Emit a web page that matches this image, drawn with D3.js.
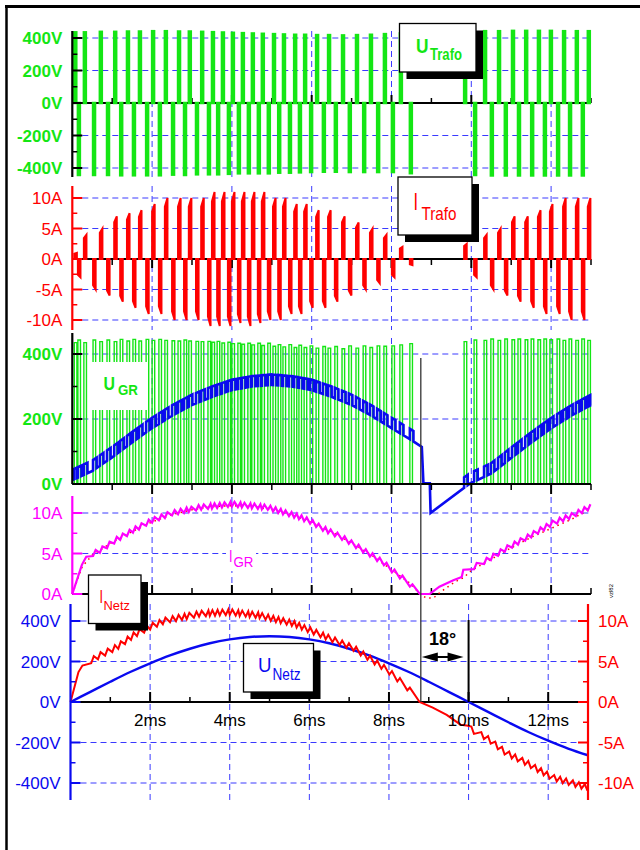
<!DOCTYPE html>
<html>
<head>
<meta charset="utf-8">
<script src="https://cdn.jsdelivr.net/npm/d3@7"></script>
<style>
  body { margin: 0; background: #fff; }
  svg { display: block; }
  text { font-family: "Liberation Sans", Arial, sans-serif; }
</style>
</head>
<body>
<svg id="chart" width="640" height="850"></svg>
<script>
// ---------- time axis (ms) ----------
const msTicks  = [2, 4, 6, 8, 10, 12];
const msMinor  = [1, 3, 5, 7, 9, 11, 13];
const msLabels = ["2ms", "4ms", "6ms", "8ms", "10ms", "12ms"];

// ---------- bridge switching pulses: start times (ms) ----------
const posPulseT = [0.05,0.29,0.69,1.05,1.37,1.67,2.00,2.32,2.65,2.92,3.23,3.50,3.75,4.00,4.25,4.50,4.75,5.03,5.28,5.56,5.81,6.11,6.41,6.76,7.11,7.46,7.81,8.21,9.82,10.32,10.67,11.02,11.35,11.67,11.97,12.30,12.62,12.92];
const negPulseT = [0.14,0.52,0.87,1.20,1.52,1.85,2.17,2.50,2.80,3.10,3.40,3.63,3.90,4.15,4.40,4.65,4.90,5.16,5.43,5.68,5.96,6.28,6.58,6.93,7.29,7.64,8.01,8.46,10.07,10.49,10.84,11.17,11.50,11.82,12.15,12.45,12.77];
const uPulseLen = 0.05;   // voltage pulse duration (ms)
const iPulseLen = 0.065;  // current pulse duration (ms)

// U_Trafo pulse heights (V)
const uTrafoPos = [435,435,438,438,440,440,442,442,440,440,438,436,434,432,430,428,426,424,422,420,420,418,418,416,418,420,424,428,438,442,442,444,444,444,444,442,442,442];
const uTrafoNeg = [-443,-443,-443,-445,-445,-445,-445,-441,-443,-439,-439,-439,-436,-433,-433,-433,-433,-429,-429,-427,-425,-423,-423,-425,-425,-425,-425,-432,-443,-446,-446,-446,-446,-446,-446,-446,-446];

// I_Trafo pulse peaks (A)
const iTrafoPos = [1,4,5,7,7.5,8,9,10,10,10,10,11,11,11,11,11,11,10,10,9,9,8,8,7,6,5,4,2,2.5,4,5,7,7,8,9,10,10,10];
const iTrafoNeg = [-3,-5,-6,-7,-8,-9,-9,-10,-10,-10,-11,-11,-11,-10.5,-11,-10.5,-10,-10,-9,-9,-8,-8,-7,-6,-5,-4,-3,-1,-3,-5,-6,-7,-8,-9,-9,-10,-10];

// U_GR mean voltage: lower edge of the band (V) and tooth height
const ugrBaseT = [0,0.5,1,1.5,2,2.5,3,3.5,4,4.5,5,5.5,6,6.5,7,7.5,8,8.5,8.76,8.8,8.96,8.98,9.97,10.5,11,11.5,12,12.5,13];
const ugrBaseV = [12,40,82,128,172,210,243,268,289,300,305,300,289,268,243,210,172,135,114,2,2,-89,2,32,80,127,171,210,243];
const ugrTooth = 32;
const ugrToothLen = 0.09;

// I_GR rectifier current (A)
const igrT = [0,0.24,0.35,0.7,1.1,1.53,2.0,2.5,3.2,4.0,4.9,5.7,6.0,6.2,6.8,7.3,7.8,8.0,8.4,8.71,8.96,9.2,9.55,9.76,9.8,10.0,10.4,10.9,11.4,12.05,12.55,12.95];
const igrV = [0,3.6,4.6,5.4,6.7,7.9,9.1,10.0,10.7,11.1,10.7,9.5,8.9,8.3,6.9,5.4,3.9,3.0,1.5,0,0,0.9,1.7,2.1,3.0,3.2,4.2,5.7,7.0,8.8,9.75,10.7];
const igrRefT = [0,0.25,0.5,1,1.5,2,2.5,3,3.5,4,4.5,5,5.5,6,6.5,7,7.5,8,8.5,8.71,8.88,9.05,9.23,9.42,9.59,9.8,10,10.5,11,11.5,12,12.5,12.95];
const igrRefV = [0,3.4,4.8,6.4,7.7,8.9,9.8,10.4,10.8,10.9,10.8,10.4,9.8,8.8,7.7,6.3,4.8,3.0,1.2,0,-0.5,-0.5,0.25,0.9,1.5,2.0,2.9,4.3,5.7,7.0,8.1,9.2,10.4];
const igrRipple = 0.3;

// mains voltage U_Netz (V)
const unetzT = [0,0.5,1,1.5,2,2.5,3,3.5,4,4.5,5,5.5,6,6.5,7,7.5,8,8.5,9,9.5,10,10.5,11,11.5,12,12.5,13];
const unetzV = [0,50,100,148,191,230,263,290,309,321,325,321,309,290,263,230,191,148,100,50,0,-50,-100,-148,-191,-230,-263];

// mains current I_Netz (A)
const inetzT = [0,0.2,0.3,0.75,1.17,1.6,2.0,2.4,3.25,4.0,4.75,5.6,6.2,7.1,7.95,8.45,8.77,9.1,9.45,9.8,9.95,10.1,10.45,10.95,11.45,12.1,12.6,13.0];
const inetzV = [0,3.7,4.5,5.8,6.8,8.3,9.3,10.1,10.9,11.1,10.7,9.7,8.5,6.7,4.0,1.85,0,-0.7,-1.6,-2.8,-2.9,-3.5,-4.4,-6.3,-7.5,-9.3,-10.0,-10.6];
const inetzRipple = 0.35;

// phase shift marker
const phaseMarks = [8.8, 10];
const phaseLabel = "18°";

// tick values and labels
const uTrafoTicks = [400,200,0,-200,-400], uTrafoMinor = [300,100,-100,-300];
const uTrafoLabels = ["400V","200V","0V","-200V","-400V"];
const iTrafoTicks = [10,5,0,-5,-10], iTrafoMinor = [7.5,2.5,-2.5,-7.5];
const iTrafoLabels = ["10A","5A","0A","-5A","-10A"];
const ugrTicks = [400,200,0], ugrMinor = [300,100];
const ugrLabels = ["400V","200V","0V"];
const igrTicks = [10,5,0], igrMinor = [7.5,2.5];
const igrLabels = ["10A","5A","0A"];
const netzUTicks = [400,200,0,-200,-400], netzUMinor = [300,100,-100,-300];
const netzULabels = ["400V","200V","0V","-200V","-400V"];
const netzITicks = [10,5,0,-5,-10], netzIMinor = [7.5,2.5,-2.5,-7.5];
const netzILabels = ["10A","5A","0A","-5A","-10A"];

// ---------- colours ----------
const GREEN = "#14e614", RED = "#ff0000", MAG = "#ff00ff", BLUE = "#0a0af0", GRID = "#3a3aff";

const svg = d3.select("#chart");

// ---------- scales ----------
const xT = d3.scaleLinear().domain([0, 13]).range([72.3, 591]);
const xB = d3.scaleLinear().domain([0, 13]).range([70.5, 588]);

const y1 = d3.scaleLinear().domain([-400, 400]).range([168, 38]);
const y2 = d3.scaleLinear().domain([-10, 10]).range([320, 198]);
const y3 = d3.scaleLinear().domain([0, 400]).range([484, 354]);
const y4 = d3.scaleLinear().domain([0, 10]).range([594, 513]);
const y5 = d3.scaleLinear().domain([-400, 400]).range([783, 621]);
const y5r = d3.scaleLinear().domain([-10, 10]).range([783, 621]);

// ---------- frame ----------
svg.append("line").attr("x1", 5).attr("x2", 640).attr("y1", 6.5).attr("y2", 6.5)
  .attr("stroke", "#000").attr("stroke-width", 3);
svg.append("line").attr("x1", 6.5).attr("x2", 6.5).attr("y1", 5).attr("y2", 850)
  .attr("stroke", "#000").attr("stroke-width", 2.5);

// ---------- helpers ----------
function gridLines(x, y, hVals, top, bottom) {
  const g = svg.append("g").attr("stroke", GRID).attr("stroke-width", 1)
    .attr("stroke-dasharray", "6,4").attr("fill", "none");
  hVals.forEach(v => g.append("line")
    .attr("x1", x(0)).attr("x2", x(13)).attr("y1", y(v)).attr("y2", y(v)));
  msTicks.forEach(t => g.append("line")
    .attr("x1", x(t)).attr("x2", x(t)).attr("y1", top).attr("y2", bottom));
}

function zeroAxis(x, yPix, dir, majLen, minLen) {
  const g = svg.append("g").attr("stroke", "#000");
  g.append("line").attr("x1", x(0)).attr("x2", x(13)).attr("y1", yPix).attr("y2", yPix)
    .attr("stroke-width", 2);
  msTicks.forEach(t => g.append("line").attr("x1", x(t)).attr("x2", x(t))
    .attr("y1", yPix).attr("y2", yPix + dir * majLen).attr("stroke-width", 2));
  msMinor.forEach(t => g.append("line").attr("x1", x(t)).attr("x2", x(t))
    .attr("y1", yPix).attr("y2", yPix + dir * minLen).attr("stroke-width", 1.5));
}

function yAxis(xPix, y, top, bottom, color, majors, minors, dir, labels, font) {
  const g = svg.append("g");
  g.append("line").attr("x1", xPix).attr("x2", xPix).attr("y1", top).attr("y2", bottom)
    .attr("stroke", color).attr("stroke-width", 2.2);
  majors.forEach(v => g.append("line").attr("x1", xPix).attr("x2", xPix + dir * 10)
    .attr("y1", y(v)).attr("y2", y(v)).attr("stroke", color).attr("stroke-width", 2));
  minors.forEach(v => g.append("line").attr("x1", xPix).attr("x2", xPix + dir * 5)
    .attr("y1", y(v)).attr("y2", y(v)).attr("stroke", color).attr("stroke-width", 1.5));
  majors.forEach((v, i) => g.append("text")
    .attr("x", dir > 0 ? xPix - 10 : xPix + 10).attr("y", y(v)).attr("dy", "0.36em")
    .attr("text-anchor", dir > 0 ? "end" : "start")
    .attr("font-size", 17).attr("font-weight", font.bold ? "bold" : "normal")
    .attr("fill", font.color).text(labels[i]));
}

// teeth riding on a base line, one tooth per switching pulse
function toothTrace(baseT, baseV, times, len, h, gapFrom, gapTo) {
  const base = d3.scaleLinear().domain(baseT).range(baseV);
  const ev = times.filter(t => !(t > gapFrom && t < gapTo)).sort(d3.ascending);
  const pts = [];
  let bi = 0;
  ev.forEach((t, k) => {
    while (bi < baseT.length && baseT[bi] < t) { pts.push([baseT[bi], baseV[bi]]); bi++; }
    const next = k + 1 < ev.length ? ev[k + 1] : 13;
    const t2 = Math.min(t + len, next - 0.02, 13);
    pts.push([t, base(t)], [t, base(t) + h], [t2, base(t2) + h], [t2, base(t2)]);
    while (bi < baseT.length && baseT[bi] <= t2) bi++;
  });
  while (bi < baseT.length) { pts.push([baseT[bi], baseV[bi]]); bi++; }
  return pts;
}

// current rising during each pulse and decaying in between
function zigzag(envT, envV, times, rise, r, windows) {
  const env = d3.scaleLinear().domain(envT).range(envV);
  const inWin = t => windows.some(([a, b]) => t >= a && t <= b);
  const pts = [];
  envT.forEach((t, i) => { if (!inWin(t)) pts.push([t, envV[i]]); });
  times.filter(inWin).forEach(t => {
    const v0 = env(t), v1 = env(Math.min(t + rise, 13));
    const s = v0 >= 0 ? 1 : -1;
    pts.push([t, v0 - s * r], [Math.min(t + rise, 13), v1 + s * r]);
  });
  return pts.sort((a, b) => a[0] - b[0]);
}

const allPulseT = posPulseT.concat(negPulseT).sort(d3.ascending);

// ---------- grids ----------
gridLines(xT, y1, [400, 200, -200, -400], 31, 177);
gridLines(xT, y2, [10, 5, -5, -10], 186, 330);
gridLines(xT, y3, [400, 200], 338, 484);
gridLines(xT, y4, [10, 5], 497, 594);
gridLines(xB, y5, [400, 200, -200, -400], 604, 800);

// ---------- panel 1: U_Trafo ----------
zeroAxis(xT, y1(0), -1, 8, 5);
const p1 = svg.append("g").attr("fill", GREEN).attr("stroke", GREEN)
  .attr("stroke-width", 2.5).attr("stroke-linejoin", "miter");
posPulseT.forEach((t, i) => p1.append("path").attr("d",
  `M${xT(t)},${y1(0)}V${y1(uTrafoPos[i])}H${xT(t + uPulseLen)}V${y1(0)}Z`));
negPulseT.forEach((t, i) => p1.append("path").attr("d",
  `M${xT(t)},${y1(0)}V${y1(uTrafoNeg[i])}H${xT(t + uPulseLen)}V${y1(0)}Z`));

// ---------- panel 2: I_Trafo ----------
zeroAxis(xT, y2(0), 1, 9, 6);
const p2 = svg.append("g").attr("fill", RED).attr("stroke", RED).attr("stroke-width", 2);
function iPulse(t, v) {
  return `M${xT(t)},${y2(0)}V${y2(v * 0.86)}L${xT(t + iPulseLen)},${y2(v)}V${y2(0)}Z`;
}
posPulseT.forEach((t, i) => p2.append("path").attr("d", iPulse(t, iTrafoPos[i])));
negPulseT.forEach((t, i) => p2.append("path").attr("d", iPulse(t, iTrafoNeg[i])));

// ---------- panel 3: U_GR ----------
const ugrAmp = new Map();
posPulseT.forEach((t, i) => ugrAmp.set(t, uTrafoPos[i]));
negPulseT.forEach((t, i) => ugrAmp.set(t, -uTrafoNeg[i]));
const ugrPts = [[0, 0]];
allPulseT.forEach(t => {
  const v = ugrAmp.get(t);
  ugrPts.push([t, 0], [t, v], [t + iPulseLen, v], [t + iPulseLen, 0]);
});
ugrPts.push([13, 0]);
svg.append("path").datum(ugrPts)
  .attr("d", d3.line().x(d => xT(d[0])).y(d => y3(d[1])))
  .attr("fill", "none").attr("stroke", GREEN).attr("stroke-width", 1.4);

const blue = toothTrace(ugrBaseT, ugrBaseV, allPulseT, ugrToothLen, ugrTooth, 8.6, 9.8);
svg.append("path").datum(blue)
  .attr("d", d3.line().x(d => xT(d[0])).y(d => y3(d[1])))
  .attr("fill", "none").attr("stroke", BLUE).attr("stroke-width", 2.6);
zeroAxis(xT, y3(0), 1, 10, 6);

// ---------- panel 4: I_GR ----------
zeroAxis(xT, y4(0), -1, 9, 6);
svg.append("path").datum(igrRefT.map((t, i) => [t, igrRefV[i]]))
  .attr("d", d3.line().x(d => xT(d[0])).y(d => y4(d[1])))
  .attr("fill", "none").attr("stroke", RED).attr("stroke-width", 1.5)
  .attr("stroke-dasharray", "1.5,4");
const igrPts = zigzag(igrT, igrV, allPulseT, iPulseLen, igrRipple, [[0.4, 8.6], [9.85, 13]]);
svg.append("path").datum(igrPts)
  .attr("d", d3.line().x(d => xT(d[0])).y(d => y4(d[1])))
  .attr("fill", "none").attr("stroke", MAG).attr("stroke-width", 2.2);

// ---------- panel 5: U_Netz / I_Netz ----------
zeroAxis(xB, y5(0), -1, 10, 5);
svg.append("path").datum(unetzT.map((t, i) => [t, unetzV[i]]))
  .attr("d", d3.line().curve(d3.curveMonotoneX).x(d => xB(d[0])).y(d => y5(d[1])))
  .attr("fill", "none").attr("stroke", BLUE).attr("stroke-width", 2.4);
const inetzPts = zigzag(inetzT, inetzV, allPulseT, iPulseLen, inetzRipple, [[0.4, 8.5], [10.05, 13]]);
svg.append("path").datum(inetzPts)
  .attr("d", d3.line().x(d => xB(d[0])).y(d => y5r(d[1])))
  .attr("fill", "none").attr("stroke", RED).attr("stroke-width", 2);

// ---------- y axes ----------
yAxis(xT(0), y1, 31, 177, "#000", uTrafoTicks, uTrafoMinor, 1, uTrafoLabels, {bold: true, color: GREEN});
yAxis(xT(0), y2, 186, 330, RED, iTrafoTicks, iTrafoMinor, 1, iTrafoLabels, {bold: false, color: RED});
yAxis(xT(0), y3, 333, 484, "#000", ugrTicks, ugrMinor, 1, ugrLabels, {bold: true, color: GREEN});
yAxis(xT(0), y4, 496, 594, MAG, igrTicks, igrMinor, 1, igrLabels, {bold: false, color: MAG});
yAxis(xB(0), y5, 604, 800, BLUE, netzUTicks, netzUMinor, 1, netzULabels, {bold: false, color: BLUE});
yAxis(xB(13), y5r, 604, 800, RED, netzITicks, netzIMinor, -1, netzILabels, {bold: false, color: RED});

// x tick labels
msTicks.forEach((t, i) => svg.append("text").attr("x", xB(t)).attr("y", 726)
  .attr("text-anchor", "middle").attr("font-size", 17).attr("fill", "#000").text(msLabels[i]));

// ---------- phase shift marker ----------
svg.append("line").attr("x1", xB(phaseMarks[0])).attr("x2", xB(phaseMarks[0]))
  .attr("y1", 358).attr("y2", y5(0)).attr("stroke", "#333").attr("stroke-width", 1.3);
svg.append("line").attr("x1", xB(phaseMarks[1])).attr("x2", xB(phaseMarks[1]))
  .attr("y1", 620).attr("y2", y5(0)).attr("stroke", "#000").attr("stroke-width", 2);
const ay = 657, ax0 = xB(phaseMarks[0]) + 1, ax1 = xB(phaseMarks[1]) - 5;
svg.append("line").attr("x1", ax0 + 8).attr("x2", ax1 - 8).attr("y1", ay).attr("y2", ay)
  .attr("stroke", "#000").attr("stroke-width", 2);
svg.append("path").attr("d", `M${ax0},${ay}L${ax0 + 16},${ay - 4.5}L${ax0 + 16},${ay + 4.5}Z`).attr("fill", "#000");
svg.append("path").attr("d", `M${ax1},${ay}L${ax1 - 16},${ay - 4.5}L${ax1 - 16},${ay + 4.5}Z`).attr("fill", "#000");
svg.append("text").attr("x", (ax0 + ax1) / 2).attr("y", 645).attr("text-anchor", "middle")
  .attr("font-size", 18).attr("font-weight", "bold").attr("fill", "#000").text(phaseLabel);

// ---------- trace labels ----------
function labelBox(x0, y0, x1, y1b, shadow) {
  if (shadow) svg.append("rect").attr("x", x0 + 7).attr("y", y0 + 7)
    .attr("width", x1 - x0).attr("height", y1b - y0).attr("fill", "#000");
  svg.append("rect").attr("x", x0).attr("y", y0).attr("width", x1 - x0).attr("height", y1b - y0)
    .attr("fill", "#fff").attr("stroke", shadow ? "#000" : "none").attr("stroke-width", 1.3);
}
function subLabel(x, y, main, sub, color, bold, mSize, mLen, sx, sy, sSize, sLen) {
  const w = bold ? "bold" : "normal";
  svg.append("text").attr("x", x).attr("y", y).attr("font-size", mSize).attr("font-weight", w)
    .attr("fill", color).attr("textLength", mLen).attr("lengthAdjust", "spacingAndGlyphs").text(main);
  svg.append("text").attr("x", sx).attr("y", sy).attr("font-size", sSize).attr("font-weight", w)
    .attr("fill", color).attr("textLength", sLen).attr("lengthAdjust", "spacingAndGlyphs").text(sub);
}

labelBox(399.5, 23.5, 476, 72, true);
subLabel(416, 53, "U", "Trafo", GREEN, true, 20, 12.5, 430, 60, 17, 32);

labelBox(398, 177, 472, 235, true);
subLabel(413.5, 210, "I", "Trafo", RED, false, 23, 4.5, 421.5, 220, 19, 35);

labelBox(92, 362, 148, 410, false);
subLabel(103.5, 390, "U", "GR", GREEN, true, 19, 11.5, 118, 395, 14, 20);

svg.append("rect").attr("x", 226).attr("y", 547).attr("width", 30).attr("height", 24).attr("fill", "#fff");
subLabel(229, 562, "I", "GR", MAG, false, 16, 3.5, 233.5, 567, 14, 20);

labelBox(88.5, 575, 141, 623.5, true);
subLabel(99.5, 603, "I", "Netz", RED, false, 18, 3.5, 103.5, 610, 12.5, 26.5);

labelBox(243.5, 643.5, 313.5, 692, true);
subLabel(258, 672, "U", "Netz", BLUE, false, 21, 13.5, 272.5, 680, 16, 28);

// small file tag
svg.append("text").attr("transform", "translate(613,598) rotate(-90)")
  .attr("font-size", 6).attr("fill", "#000").text("vzl82");
</script>
</body>
</html>
